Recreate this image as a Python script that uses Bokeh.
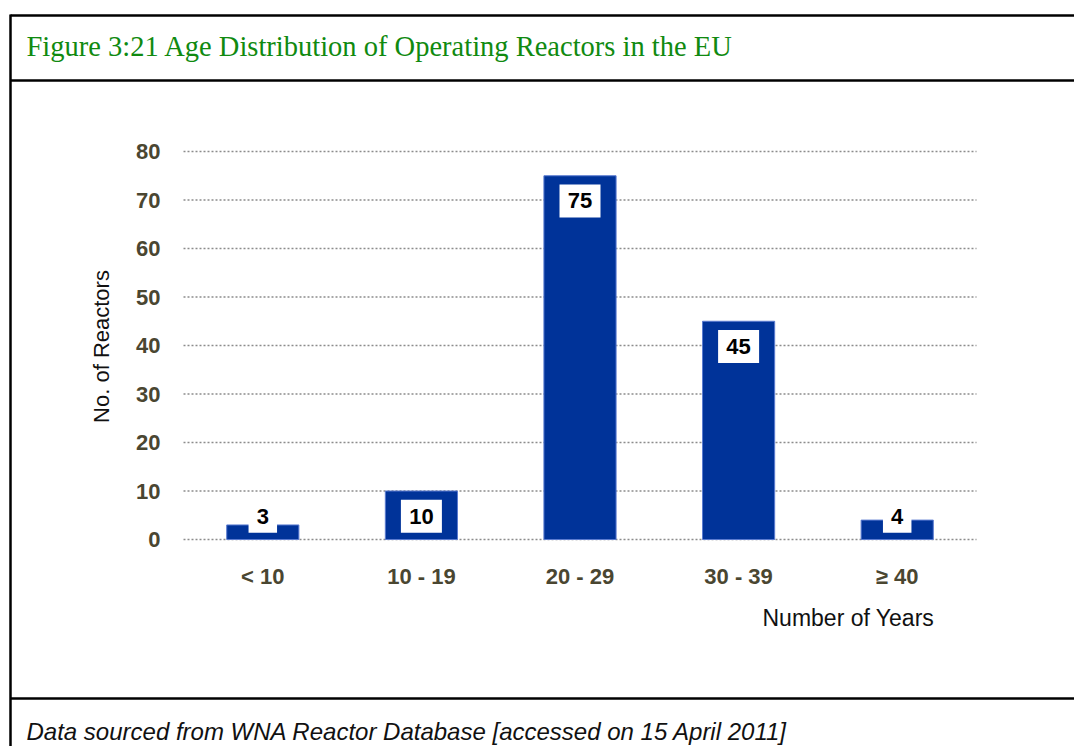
import math
from bokeh.plotting import figure
from bokeh.models import Range1d, LinearAxis, FixedTicker, ColumnDataSource
from bokeh.embed import file_html
from bokeh.resources import INLINE
from bokeh.core.properties import value

# ---- data ----
categories = ["< 10", "10 - 19", "20 - 29", "30 - 39", "\u2265 40"]
reactors = [3, 10, 75, 45, 4]
y_ticks = [0, 10, 20, 30, 40, 50, 60, 70, 80]

title_text = "Figure 3:21 Age Distribution of Operating Reactors in the EU"
footer_text = "Data sourced from WNA Reactor Database [accessed on 15 April 2011]"
y_label = "No. of Reactors"
x_label = "Number of Years"

# ---- layout (canvas pixels) ----
W, H = 1074, 746
PLOT_L, PLOT_R = 183, 976      # left/right edge of plotting area
ZERO_Y, TOP_Y = 539, 151       # pixel rows of y=0 and y=80
Y_MAX = 80

TICK_COLOR = "#4a4631"
BAR_COLOR = "#003399"
FONT = "Liberation Sans"

n = len(categories)
ux = (PLOT_R - PLOT_L) / n
uy = (ZERO_Y - TOP_Y) / Y_MAX
x_start = -0.5 - PLOT_L / ux
x_end = n - 0.5 + (W - PLOT_R) / ux
y_start = -(H - ZERO_Y) / uy
y_end = Y_MAX + TOP_Y / uy

p = figure(
    x_range=Range1d(x_start, x_end), y_range=Range1d(y_start, y_end),
    width=W, height=H, output_backend="svg", toolbar_location=None,
    x_axis_location=None, y_axis_location=None,
    min_border=0, min_border_left=0, min_border_right=0,
    min_border_top=0, min_border_bottom=0,
)
p.outline_line_color = None
p.grid.visible = False
p.background_fill_color = "white"
p.border_fill_color = "white"
p.extra_x_ranges = {"px": Range1d(0, W)}
p.extra_y_ranges = {"px": Range1d(H, 0)}

idx = list(range(n))
src = ColumnDataSource(dict(
    x=idx,
    val=reactors,
    txt=[str(v) for v in reactors],
    ly=[max(v - 5.2, 4.8) for v in reactors],
    bw=[16 + 12.5 * len(str(v)) for v in reactors],
))

# dotted grid lines between the category edges
p.segment(x0=[-0.5] * len(y_ticks), x1=[n - 0.5] * len(y_ticks),
          y0=y_ticks, y1=y_ticks, line_color="#8c8c8c",
          line_dash="2 2", line_width=1.5)

p.vbar(x="x", top="val", bottom=0, width=0.455, source=src,
       fill_color=BAR_COLOR, line_color="#5a7bd0", line_width=1)

p.rect(x="x", y="ly", width="bw", height=33, width_units="screen",
       height_units="screen", source=src, fill_color="white", line_color=None)
p.text(x="x", y="ly", text="txt", source=src, text_align="center",
       text_baseline="middle", text_font=value(FONT),
       text_font_style="bold", text_font_size="22px", text_color="black")

# axes, fixed inside the frame
yaxis = LinearAxis(fixed_location=-0.5, ticker=FixedTicker(ticks=y_ticks))
yaxis.axis_line_color = None
yaxis.major_tick_line_color = None
yaxis.minor_tick_line_color = None
yaxis.major_tick_in = 0
yaxis.major_tick_out = 0
yaxis.major_label_standoff = 23
yaxis.major_label_text_font = FONT
yaxis.major_label_text_font_style = "bold"
yaxis.major_label_text_font_size = "22px"
yaxis.major_label_text_color = TICK_COLOR
p.add_layout(yaxis, "left")

xaxis = LinearAxis(fixed_location=0, ticker=FixedTicker(ticks=idx),
                   major_label_overrides={i: c for i, c in zip(idx, categories)})
xaxis.axis_line_color = None
xaxis.major_tick_line_color = None
xaxis.minor_tick_line_color = None
xaxis.major_tick_in = 0
xaxis.major_tick_out = 0
xaxis.major_label_standoff = 24
xaxis.major_label_text_font = FONT
xaxis.major_label_text_font_style = "bold"
xaxis.major_label_text_font_size = "22px"
xaxis.major_label_text_color = TICK_COLOR
p.add_layout(xaxis, "below")

# ---- frame decorations and texts, in pixel coordinates ----
BOX_L, BOX_T, SEP1, SEP2 = 10, 15, 80, 698
p.segment(x0=[BOX_L, BOX_L, BOX_L, BOX_L], x1=[W + 10, W + 10, W + 10, BOX_L],
          y0=[BOX_T, SEP1, SEP2, BOX_T - 1], y1=[BOX_T, SEP1, SEP2, H + 10],
          line_color="black", line_width=2.5,
          x_range_name="px", y_range_name="px")

p.text(x=[26], y=[46], text=[title_text], text_font=value("Liberation Serif"),
       text_font_size="28.5px", text_color="#108a10", text_baseline="middle",
       text_align="left", x_range_name="px", y_range_name="px")
p.text(x=[26], y=[731], text=[footer_text], text_font=value(FONT),
       text_font_style="italic", text_font_size="24px", text_color="#111111",
       text_baseline="middle", text_align="left",
       x_range_name="px", y_range_name="px")
p.text(x=[762], y=[617], text=[x_label], text_font=value(FONT),
       text_font_size="23px", text_color="#111111", text_baseline="middle",
       text_align="left", x_range_name="px", y_range_name="px")
p.text(x=[101], y=[346], text=[y_label], text_font=value(FONT),
       text_font_size="22px", text_color="#111111", text_baseline="middle",
       text_align="center", angle=math.pi / 2,
       x_range_name="px", y_range_name="px")

open("out.html", "w").write(file_html(p, INLINE))
